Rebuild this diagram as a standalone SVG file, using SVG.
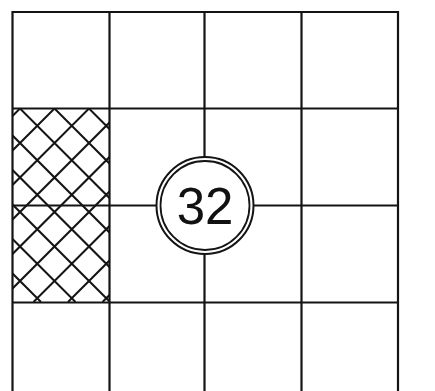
<svg xmlns="http://www.w3.org/2000/svg" width="435" height="391" viewBox="0 0 435 391">
<style>
.g{stroke:#141414;stroke-width:2.2;fill:none;stroke-linecap:square}
.h{stroke:#141414;stroke-width:2;fill:none}
.t{font-family:"Liberation Sans",Arial,sans-serif;font-size:51px;fill:#111;text-anchor:middle}
</style>
<defs>
<clipPath id="hc"><rect x="12.5" y="108.5" width="97" height="193.5"/></clipPath>
</defs>
<rect width="435" height="391" fill="#fff"/>
<g id="hatch" clip-path="url(#hc)">
<path class="h" d="M-152.5,108.5 l193.5,193.5 M-118,108.5 l193.5,193.5 M-83.5,108.5 l193.5,193.5 M-49,108.5 l193.5,193.5 M-14.5,108.5 l193.5,193.5 M20,108.5 l193.5,193.5 M54.5,108.5 l193.5,193.5 M89,108.5 l193.5,193.5
M20,108.5 l-193.5,193.5 M54.5,108.5 l-193.5,193.5 M89,108.5 l-193.5,193.5 M123.5,108.5 l-193.5,193.5 M158,108.5 l-193.5,193.5 M192.5,108.5 l-193.5,193.5 M227,108.5 l-193.5,193.5 M261.5,108.5 l-193.5,193.5 M296,108.5 l-193.5,193.5"/>
</g>
<g id="grid">
<path class="g" d="M12.5,12 V395 M109.5,12 V395 M204.5,12 V395 M301.5,12 V395 M398,12 V395
M12.5,12 H398 M12.5,108.5 H398 M12.5,205.5 H398 M12.5,302.5 H398"/>
</g>
<g id="node32">
<circle cx="205" cy="205.5" r="48.5" fill="#fff" stroke="#141414" stroke-width="2"/>
<circle cx="205" cy="205.5" r="44.5" fill="none" stroke="#141414" stroke-width="1.8"/>
<text class="t" x="205" y="223.5">32</text>
</g>
</svg>
